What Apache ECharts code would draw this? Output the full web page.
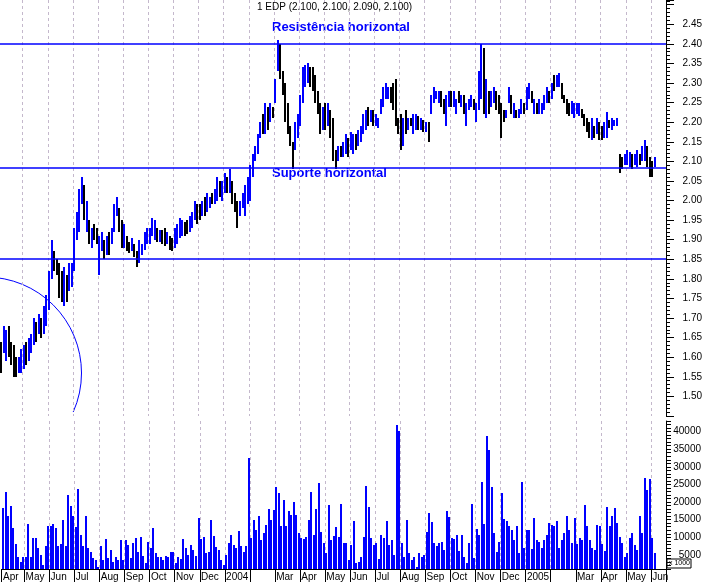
<!DOCTYPE html>
<html><head><meta charset="utf-8">
<script src="https://cdn.jsdelivr.net/npm/echarts@6/dist/echarts.min.js"></script>
<style>html,body{margin:0;padding:0;background:#fff}#c{width:707px;height:582px}</style>
</head><body><div id="c"></div><script>
// Month labels on the time axis and number of bars (each bar ~ 2 trading days) per month
const monthNames = ['Apr','May','Jun','Jul','Aug','Sep','Oct','Nov','Dec','2004','','Mar','Apr','May','Jun','Jul','Aug','Sep','Oct','Nov','Dec','2005','','Mar','Apr','May','Jun'];
const monthBars  = [9,10,10,10,10,10,10,10,10,10,10,10,10,10,10,10,10,10,10,10,10,10,10,10,10,10,2];
const emptySlots = 4;

const priceLow = [
1.56,1.61,1.59,1.60,1.58,1.55,1.55,1.56,1.56,
1.57,1.58,1.59,1.61,1.63,1.64,1.66,1.65,1.66,1.68,
1.72,1.80,1.82,1.81,1.75,1.74,1.73,1.74,1.77,1.78,
1.82,1.90,1.92,1.99,1.95,1.92,1.89,1.88,1.90,1.89,
1.81,1.87,1.85,1.86,1.86,1.89,1.92,1.96,1.92,1.88,
1.88,1.87,1.865,1.87,1.855,1.83,1.84,1.86,1.875,1.89,
1.89,1.91,1.90,1.895,1.895,1.89,1.885,1.89,1.875,1.87,
1.88,1.89,1.905,1.91,1.91,1.915,1.92,1.93,1.95,1.94,
1.95,1.96,1.96,1.97,1.98,1.99,1.99,2.00,2.01,2.00,
2.02,2.02,2.02,1.99,1.97,1.93,1.96,1.98,1.96,1.99,
2.00,2.06,2.10,2.12,2.16,2.17,2.17,2.18,2.20,2.21,
2.25,2.33,2.31,2.27,2.20,2.17,2.14,2.08,2.13,2.16,
2.19,2.25,2.29,2.30,2.29,2.28,2.25,2.22,2.17,2.18,
2.18,2.19,2.16,2.10,2.08,2.10,2.11,2.11,2.12,2.11,
2.13,2.12,2.13,2.14,2.15,2.17,2.18,2.19,2.20,2.19,
2.19,2.185,2.22,2.24,2.26,2.26,2.25,2.23,2.19,2.17,
2.13,2.14,2.17,2.18,2.19,2.17,2.18,2.18,2.18,2.175,
2.175,2.15,2.22,2.25,2.26,2.25,2.24,2.22,2.19,2.24,
2.24,2.24,2.22,2.25,2.24,2.22,2.19,2.23,2.24,2.23,
2.20,2.23,2.26,2.22,2.21,2.22,2.24,2.25,2.23,2.22,
2.16,2.20,2.21,2.25,2.22,2.21,2.21,2.21,2.22,2.22,
2.23,2.26,2.25,2.22,2.22,2.22,2.22,2.23,2.25,2.25,
2.26,2.28,2.29,2.29,2.26,2.25,2.22,2.215,2.22,2.21,
2.22,2.215,2.21,2.19,2.175,2.16,2.155,2.16,2.17,2.155,
2.155,2.16,2.16,2.185,2.18,2.19,2.19,2.07,2.08,2.09,
2.09,2.085,2.08,2.09,2.085,2.09,2.10,2.10,2.085,2.06,
2.06,2.085
];
const priceHigh = [
1.64,1.68,1.67,1.68,1.64,1.63,1.60,1.60,1.62,
1.63,1.64,1.65,1.66,1.70,1.69,1.71,1.70,1.73,1.76,
1.82,1.90,1.87,1.85,1.84,1.82,1.83,1.81,1.84,1.84,
1.93,1.97,2.03,2.06,2.04,2.00,1.95,1.93,1.94,1.93,
1.91,1.92,1.90,1.91,1.92,1.93,1.99,2.01,1.98,1.95,
1.94,1.91,1.895,1.905,1.89,1.87,1.90,1.89,1.92,1.93,
1.93,1.955,1.95,1.93,1.925,1.925,1.93,1.92,1.91,1.905,
1.93,1.94,1.955,1.95,1.945,1.95,1.96,1.97,2.00,1.99,
1.99,2.00,2.01,2.02,2.01,2.02,2.03,2.06,2.05,2.05,
2.07,2.06,2.08,2.05,2.02,2.00,2.00,2.02,2.04,2.06,
2.09,2.12,2.14,2.17,2.20,2.22,2.25,2.24,2.25,2.24,
2.31,2.41,2.40,2.33,2.30,2.25,2.19,2.15,2.20,2.22,
2.27,2.34,2.345,2.35,2.34,2.34,2.32,2.28,2.25,2.24,
2.25,2.25,2.23,2.21,2.13,2.14,2.14,2.15,2.17,2.16,
2.175,2.17,2.17,2.18,2.19,2.22,2.23,2.24,2.23,2.23,
2.22,2.21,2.26,2.29,2.30,2.29,2.29,2.30,2.31,2.21,
2.22,2.21,2.23,2.21,2.21,2.22,2.22,2.215,2.21,2.205,
2.20,2.20,2.27,2.29,2.28,2.28,2.28,2.26,2.27,2.28,
2.28,2.28,2.26,2.28,2.27,2.27,2.25,2.26,2.27,2.26,
2.25,2.33,2.40,2.39,2.31,2.28,2.28,2.29,2.28,2.27,
2.25,2.23,2.23,2.29,2.27,2.25,2.23,2.235,2.26,2.25,
2.29,2.30,2.28,2.26,2.25,2.26,2.25,2.27,2.29,2.28,
2.30,2.32,2.32,2.325,2.30,2.27,2.26,2.25,2.255,2.25,
2.25,2.25,2.235,2.22,2.21,2.20,2.21,2.19,2.21,2.20,
2.19,2.20,2.225,2.205,2.21,2.205,2.21,2.12,2.11,2.12,
2.13,2.125,2.12,2.12,2.13,2.12,2.14,2.155,2.14,2.11,
2.10,2.11
];
// 1 = closed up (blue), 0 = closed down (black)
const barUp = [
0,1,1,0,0,0,0,1,1,
1,0,1,1,1,0,1,0,1,1,
1,1,0,0,0,0,1,0,1,1,
1,1,1,1,0,1,0,1,0,0,
1,1,0,1,0,1,1,1,0,0,
1,0,0,1,0,0,1,1,1,1,
1,1,1,0,1,0,0,1,0,0,
1,1,1,1,0,0,1,1,1,0,
0,1,0,1,1,0,1,1,0,1,
1,0,1,0,0,0,1,1,1,1,
1,1,1,1,1,0,1,0,1,0,
1,1,0,0,0,0,0,0,1,1,
1,1,1,1,0,0,0,0,0,1,
0,1,0,0,0,1,0,1,1,0,
1,1,0,1,1,1,1,0,1,0,
1,1,1,1,1,1,0,0,0,0,
0,1,0,1,0,1,1,0,1,0,
1,0,1,1,1,1,0,0,1,1,
0,1,1,0,1,0,1,1,1,0,
1,1,1,0,1,0,1,1,0,0,
0,0,1,1,0,1,0,1,1,0,
1,1,0,1,0,1,1,1,1,0,
1,0,1,1,0,0,0,0,1,1,
1,1,0,0,0,0,1,0,1,0,
0,1,1,0,1,1,1,0,0,1,
1,1,0,1,1,0,1,1,0,0,
0,1
];
const volume = [
18300,22800,15900,19000,12600,8100,4500,3100,4500,
4500,13800,4500,9900,9900,7100,5000,2000,7400,13300,
13300,13800,12600,7500,8000,15000,7400,22100,19000,16100,
13000,23800,10700,7400,16100,6900,5700,4200,3600,1700,
7400,3600,9600,4000,6400,3100,4500,3600,9100,3600,
9300,7800,4000,8300,9700,5900,10200,4700,2600,8800,
6900,12600,5500,4500,4500,3600,4700,4500,5900,5700,
2600,4500,3800,9600,6900,5000,7800,6400,4700,15600,
9500,10200,5500,5700,14800,10400,7200,6400,3600,2000,
5000,8300,10700,7800,6900,11800,7400,5900,7400,32600,
9700,15000,12100,15900,9300,11200,13500,18000,15000,17800,
24400,22600,13300,20500,13300,17600,16400,20000,16400,11200,
9700,9500,10200,15000,22800,10700,18000,25300,11500,8300,
5500,19200,9300,10400,13000,10200,19500,8500,8500,3600,
7800,14500,2600,3100,4300,10200,24600,18500,9700,7800,
8300,3800,10700,9700,14500,7800,9300,5000,41800,40100,
8500,4500,15000,5500,3600,4500,1700,5500,4500,5000,
11600,17000,14200,8300,7400,8300,8800,6400,17600,15700,
9700,9500,10700,6200,10700,4500,2600,8300,19500,4000,
12400,10700,25600,13800,38700,34900,24400,11100,5900,8800,
22600,15200,14500,13100,12100,9300,13300,5500,25800,6900,
12100,12100,6600,15400,9100,8800,6900,9300,10700,14000,
13500,13100,14500,6900,9300,11200,15900,12100,8300,15400,
8100,9700,9300,19200,13100,9300,7100,6400,13500,13300,
8100,6000,18600,13300,15900,18300,14000,10200,8500,4500,
5500,9700,11200,7800,6400,15900,11200,26900,23300,26400,
9700,5500
];
const levelLines = [2.40, 2.083, 1.85];
const titleText = '1 EDP (2.100, 2.100, 2.090, 2.100)';

const FONT = 'Arial, "Liberation Sans", sans-serif';
const BLUE = '#0000ff';
const nData = priceLow.length;
const N = nData + emptySlots;
const categories = [];
for (let i = 0; i < N; i++) categories.push('d' + i);
const labelAt = {};
let pos = 0;
monthNames.forEach((m, k) => { labelAt[pos] = m; pos += monthBars[k]; });
const isMonthStart = (i) => Object.prototype.hasOwnProperty.call(labelAt, i);

const priceData = [];
const volData = [];
for (let i = 0; i < nData; i++) {
  priceData.push([i, priceLow[i], priceHigh[i], barUp[i]]);
  volData.push([i, volume[i]]);
}

const gridLine = { show: true, interval: (i) => isMonthStart(i) && i > 0, lineStyle: { color: '#c4b8cc', type: [3, 3], width: 1 } };

const chart = echarts.init(document.getElementById('c'), null, { renderer: 'canvas' });
chart.setOption({
  animation: false,
  backgroundColor: '#fff',
  title: { text: titleText, left: 257, top: 2, padding: 0,
    textStyle: { fontSize: 10, fontWeight: 'normal', color: '#000', fontFamily: FONT } },
  grid: [
    { left: -1, top: 0, width: 667, height: 416 },
    { left: -1, top: 421, width: 667, height: 148 }
  ],
  xAxis: [
    { type: 'category', gridIndex: 0, data: categories, boundaryGap: true,
      axisLine: { show: false }, axisTick: { show: false }, axisLabel: { show: false },
      splitLine: gridLine },
    { type: 'category', gridIndex: 1, data: categories, boundaryGap: true,
      axisLine: { show: true, lineStyle: { color: '#000', width: 1 } },
      axisTick: { show: true, interval: (i) => isMonthStart(i), length: 13, lineStyle: { color: '#000' } },
      axisLabel: { show: true, interval: (i) => isMonthStart(i), formatter: (v, i) => labelAt[i] || '',
        align: 'left', margin: 3, fontSize: 10, color: '#000', fontFamily: FONT },
      splitLine: gridLine }
  ],
  yAxis: [
    { type: 'value', gridIndex: 0, position: 'right', min: 1.45, max: 2.512, interval: 0.05,
      axisLine: { show: true, lineStyle: { color: '#000' } },
      axisTick: { show: true, length: 8, lineStyle: { color: '#000' } },
      minorTick: { show: true, splitNumber: 5, length: 4, lineStyle: { color: '#000' } },
      splitLine: { show: false },
      axisLabel: { align: 'right', margin: 36, fontSize: 10, color: '#000', fontFamily: FONT,
        showMinLabel: false, showMaxLabel: false,
        formatter: (v) => (v > 1.49 && v < 2.46) ? v.toFixed(2) : '' } },
    { type: 'value', gridIndex: 1, position: 'right', min: 1000, max: 43000, interval: 1000,
      axisLine: { show: true, lineStyle: { color: '#000' } },
      axisTick: { show: true, length: 5, lineStyle: { color: '#000' } },
      splitLine: { show: false },
      axisLabel: { align: 'right', margin: 35, fontSize: 10, color: '#000', fontFamily: FONT,
        formatter: (v) => (v % 5000 === 0 && v >= 5000 && v <= 40000) ? String(v) : '' } }
  ],
  series: [
    { type: 'custom', xAxisIndex: 0, yAxisIndex: 0, data: priceData, encode: { x: 0, y: [1, 2] },
      clip: true,
      renderItem: (params, api) => {
        const i = api.value(0);
        const lo = api.coord([i, api.value(1)]);
        const hi = api.coord([i, api.value(2)]);
        const x = Math.round(lo[0]) - 1;
        const y0 = Math.round(hi[1]);
        const y1 = Math.round(lo[1]);
        return { type: 'rect', shape: { x: x, y: y0, width: 2, height: Math.max(1, y1 - y0) },
          style: { fill: api.value(3) ? BLUE : '#000' } };
      } },
    { type: 'custom', xAxisIndex: 1, yAxisIndex: 1, data: volData, encode: { x: 0, y: 1 },
      clip: true,
      renderItem: (params, api) => {
        const i = api.value(0);
        const top = api.coord([i, api.value(1)]);
        const base = api.coord([i, 1000]);
        const x = Math.round(top[0]) - 1;
        const y0 = Math.round(top[1]);
        return { type: 'rect', shape: { x: x, y: y0, width: 2, height: Math.round(base[1]) - y0 },
          style: { fill: BLUE } };
      } }
  ],
  graphic: [
    { type: 'text', left: 272, top: 21, style: { text: 'Resistência horizontal', fill: BLUE, font: 'bold 13px ' + FONT } },
    { type: 'text', left: 272, top: 167, style: { text: 'Suporte horizontal', fill: BLUE, font: 'bold 13px ' + FONT } },
    { type: 'arc', shape: { cx: -14.5, cy: 373, r: 96, startAngle: -Math.PI / 2, endAngle: 24 * Math.PI / 180, clockwise: true },
      style: { stroke: BLUE, fill: null, lineWidth: 1 } },
    { type: 'rect', shape: { x: 667, y: 559, width: 24, height: 9 }, style: { fill: '#fff', stroke: '#000', lineWidth: 1 } },
    { type: 'text', x: 669, y: 560, style: { text: 'x 1000', fill: '#000', font: '7px ' + FONT } }
  ]
});

// Horizontal support / resistance levels, placed with the price axis scale
const levelGraphics = levelLines.map((v, k) => {
  const y = Math.round(chart.convertToPixel({ yAxisIndex: 0 }, v));
  return { type: 'line', id: 'level' + k, z: 50,
    shape: { x1: 0, y1: y, x2: 666, y2: y },
    style: { stroke: BLUE, lineWidth: 1.5 } };
});
chart.setOption({ graphic: levelGraphics });
</script></body></html>
